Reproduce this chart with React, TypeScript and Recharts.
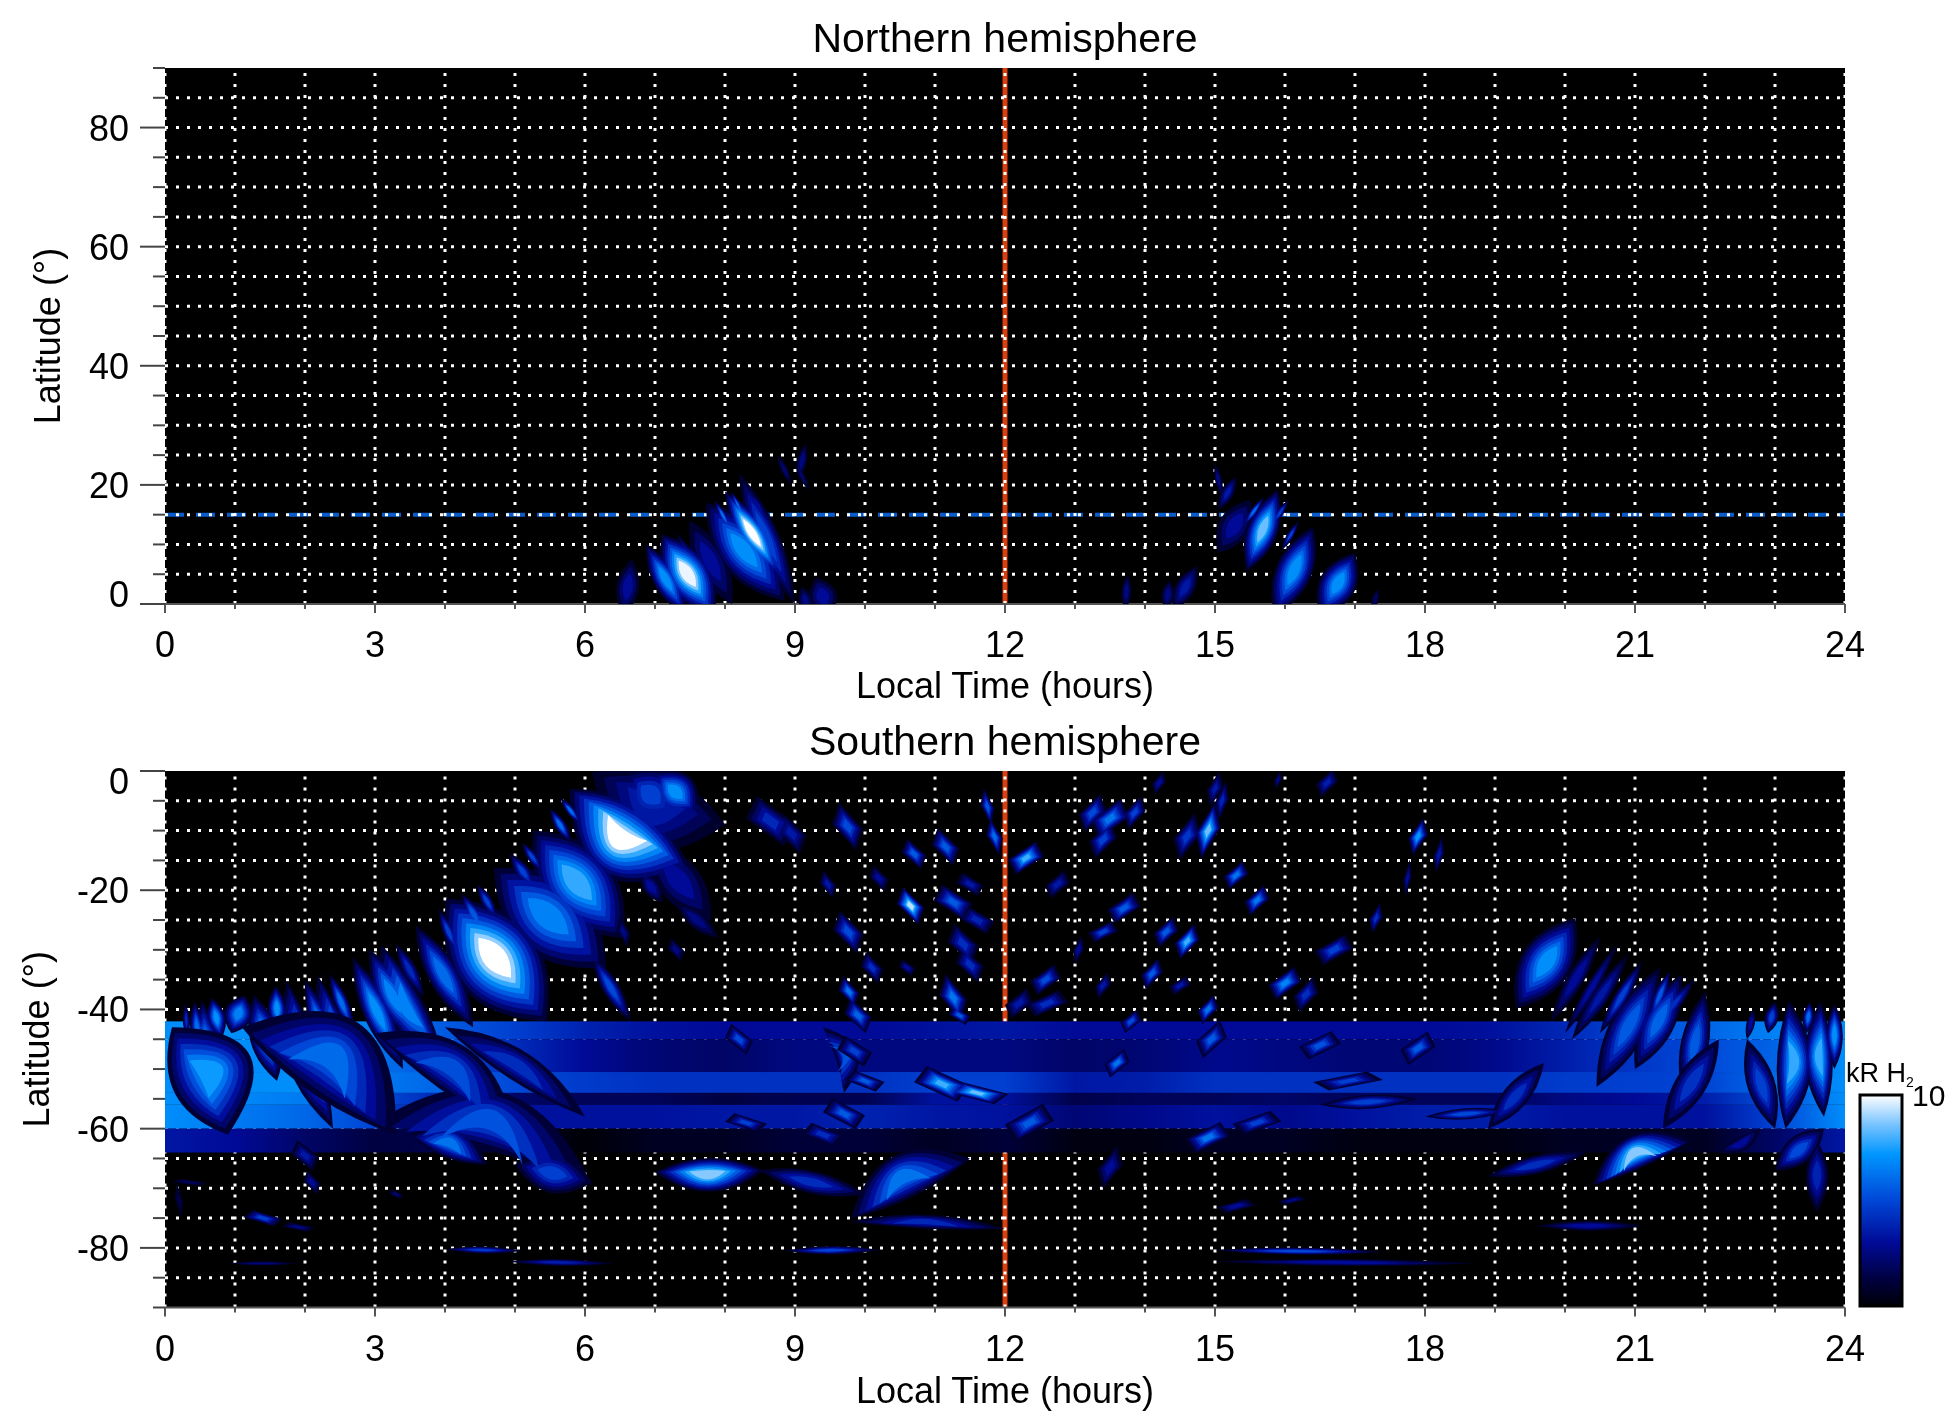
import React from 'react';
import { ScatterChart, Scatter, XAxis, YAxis, ReferenceLine, CartesianGrid } from 'recharts';

// ---------- axis values ----------
const hours = Array.from({ length: 25 }, (_, i) => i);
const innerHours = hours;
const northLatTicks = [0,5,10,15,20,25,30,35,40,45,50,55,60,65,70,75,80,85,90];
const southLatTicks = [0,-5,-10,-15,-20,-25,-30,-35,-40,-45,-50,-55,-60,-65,-70,-75,-80,-85,-90];
const titleNorth = 'Northern hemisphere';
const titleSouth = 'Southern hemisphere';
const xTitle = 'Local Time (hours)';
const yTitle = 'Latitude (°)';
const northSubsolar = 15;
const southSubsolar = -44;
const noon = 12;

// ---------- colour scale stops: log10(kR) -> colour ----------
const scaleT = [0, 0.12, 0.3, 0.5, 0.72, 0.86, 1];
const scaleC = [[0,0,8],[0,0,60],[0,10,150],[0,70,215],[0,150,255],[120,195,255],[255,255,255]];

// ---------- latitude bands: top, bottom, then kR at each hour 0..24 ----------
const bandTop = [-42, -45, -50.5, -54, -56, -60];
const bandBottom = [-45, -50.5, -54, -56, -60, -64];
const bandA = [5,5,5,4.6,3.6,3,2.4,2.1,2,2,2,2.1,2.2,2,2,2,2,2,2,2.1,2.5,3.2,3.8,4.6,5];
const bandB = [5,5,4.8,4.2,3.4,2.6,2,1.7,1.6,1.8,1.8,1.8,1.8,1.6,1.7,1.9,1.8,1.7,1.7,1.9,2.3,2.8,3.2,3.8,5];
const bandC = [5,5,5,4.4,3.8,3.2,2.9,2.7,2.7,2.7,2.7,3,3,2.2,2.3,2.7,2.7,2.7,2.7,2.7,2.9,3,3.1,4,5];
const bandD = [5,4.8,4.4,3.4,2.4,1.6,1.5,1.5,1.35,1.45,1.45,2.1,2.1,1.4,1.5,1.5,1.6,1.5,1.5,1.5,1.8,2,2.3,3.4,5];
const bandE = [5,4.4,3.9,3.1,2.4,2.1,2.1,2.1,2.2,2.2,2.4,2.2,2.1,1.7,1.9,2.1,1.9,2.1,2.3,2.3,2.1,2.1,2.1,3.1,5];
const bandF = [2.2,2,1.6,1.35,1.4,1.15,1,1.15,1.15,1.3,1.3,1.15,1.3,1.05,1.05,1.15,1.15,1.05,1.05,1.05,1.15,1.15,1.15,1.6,2.2];
const bandRows = [bandA, bandB, bandC, bandD, bandE, bandF];

// ---------- streaks: tipLT, tipLat, endLT, endLat, half width (h), peak kR, bow (h) ----------
const southDawnStreaks = [
  [.29,-38.9,.32,-45,.05,2.5,0],[.42,-38.6,.5,-48,.1,4,0],[.53,-38.5,.72,-60,.22,7.5,0],[.67,-38,.8,-45,.13,5,0],
  [1.14,-37.6,.95,-44,.2,4.5,0],[1.27,-37.6,1.6,-52,.22,5,0],[1.58,-36,1.62,-44,.13,5,0],[1.74,-35.2,2.4,-60,.24,5,.1],
  [2,-35,2.5,-52,.15,5,0],[2.18,-34.3,3,-58,.22,5,.1],[2.35,-34,2.7,-44,.1,4,0],[2.68,-31.3,3.4,-50,.2,5,0],
  [2.92,-30,3.6,-46,.22,4.6,0],[3.09,-29.2,4,-50,.26,4.6,.1],[3.3,-29,3.7,-38,.1,2.5,0],[3.58,-25.9,4.4,-43,.22,4,0],
  [3.91,-23.2,4.2,-31,.08,3,0],[4.02,-21.4,5.45,-42,.62,10,0],[4.24,-20.5,4.6,-28,.1,3.5,0],[4.46,-19,4.75,-25,.08,3,0],
  [4.7,-16.3,6.3,-33,.55,4.6,0],[4.93,-13.9,5.3,-20,.1,3,0],[5.1,-12,5.4,-17,.07,3,0],[5.26,-10,6.55,-28,.52,6,0],
  [5.5,-6.3,5.8,-12,.08,4,0],[5.65,-4.5,5.95,-9,.06,4,0],[5.78,-3,7.5,-16.5,.55,10,.2],[6.1,-.3,8,-9,.55,2.2,.2],
  [7,-.2,7.6,-7,.3,5,0],[6.6,-.2,7.3,-8,.4,3,0],[6.9,-12,7.8,-25,.3,2,0],[6.1,-31,6.65,-42,.12,3.2,0],
  [6.8,-17,7.1,-22,.12,2,0],[7.3,-22,7.9,-28,.12,1.8,0],
];
const southDuskStreaks = [
  [20.15,-24.7,19.3,-39.8,.36,5,0],[20.5,-27.8,19.8,-42,.12,2,0],[20.9,-30.8,20.1,-45,.12,2.2,0],[20.75,-29,20,-44,.08,2,0],
  [21.35,-33,20.45,-53,.26,3.6,0],[21.1,-32,20.5,-44,.1,3,0],[21.66,-34.2,21,-50,.24,3.8,0],[21.5,-33.5,21.2,-42,.08,3.5,0],
  [21.85,-35,21.2,-44,.1,2.6,0],[22,-37,21.7,-55,.2,3.6,0],[23,-38.7,22.9,-44,.1,3,0],[23.2,-38.5,23.15,-60,.25,6,-.1],
  [23.5,-38.7,23.45,-44,.08,4,0],[23.65,-38.6,23.7,-58,.2,6,.05],[23.85,-39,23.85,-50,.12,5,0],[22.7,-40,22.6,-45,.06,2,0],
];
const southArcs = [
  [3,-59,6.1,-69.5,.42,3.4,-.5],[3.5,-61,4.6,-66,.22,4.2,-.1],[5,-66,6.1,-69,.28,3,0],[7,-67.3,8.55,-67,.24,7.5,.05],
  [8.5,-67,10,-71,.16,2.6,0],[9.8,-75,11.5,-65,.32,4.2,-.2],[9.8,-75.6,12,-76.8,.1,2.5,-.05],[8.85,-80.5,10.2,-80.3,.06,3,0],
  [4,-80.2,5.1,-80.5,.05,2.8,0],[4.9,-82.3,6.4,-82.6,.05,2.3,0],[.9,-82.6,1.9,-82.6,.03,1.7,0],[15,-80.4,17.4,-80.7,.05,3.2,0],
  [15,-82.3,18.7,-82.6,.05,2,0],[19.6,-76.3,21.1,-76.3,.07,2,0],[20.4,-69.5,21.8,-62,.24,7.5,-.18],[18.9,-68,20.3,-64,.13,2.6,0],
  [22.2,-64,22.8,-60,.1,2,.05],[23,-67,23.7,-60,.2,3.2,0],[23.6,-62,23.6,-74,.16,2.4,0],[9.4,-43,9.7,-54,.16,3.4,-.2],
  [.1,-43,.9,-61,.6,5.4,-.2],[1.1,-43,3.3,-61,.6,4,-.4],[3,-44,5,-61,.35,3.3,-.25],[4,-43,6,-58,.22,2.6,-.1],
  [22.2,-45,21.4,-60,.22,2.7,0],[23,-60,22.6,-45,.2,3,0],[18.9,-60,19.7,-49,.18,2.6,0],[16.5,-56,17.9,-55,.1,3,0],[18,-58,19.2,-57,.08,3.2,0],
];
// ---------- patches: LT, latitude, half width (h), half height (deg), peak kR ----------
const southPatches = [
  [8.65,-8.4,.35,4.2,2.5],[8.95,-10.5,.22,3.4,2.2],[9.75,-9.3,.22,4,3.2],[9.47,-19,.12,2.4,2.2],[9.76,-27,.22,3.6,3.2],
  [10.65,-22.6,.2,3.2,8.5],[10.7,-13.9,.18,2.6,3.6],[11.15,-12.7,.2,3.2,3.6],[11.75,-6,.1,3.2,3.4],[11.85,-11,.12,3.2,4],
  [12.3,-14.6,.26,2.8,6.2],[11.26,-22,.28,3,3.6],[10.2,-18,.14,2.2,2],[11.5,-19,.2,2,2.2],[11.4,-29,.22,3.4,2.6],[11.6,-25,.25,2.4,2.4],
  [10.1,-33,.16,2.6,2.6],[10.6,-33,.12,1.4,2],[9.77,-37,.15,2.6,4.2],[9.9,-41,.2,3,3.8],[11.26,-38,.2,4,4.2],[11.5,-32.5,.2,3,2.6],[11.35,-41,.16,1.6,3.6],
  [12.58,-35,.22,2.6,3.2],[12.6,-39,.3,2.2,2.6],[12.2,-39,.2,2.6,2.2],[12.75,-19,.18,2.4,2.2],[13.05,-30,.08,2.4,2],
  [13.25,-7,.2,3.2,3.2],[13.5,-8,.28,3.4,4.2],[13.85,-7,.16,2.8,3],[13.4,-11.5,.2,3.2,3],[13.7,-23,.24,2.6,3.6],[13.4,-27,.22,1.8,3],[14.3,-27,.18,2.6,3.6],
  [14.6,-28.6,.18,3,6.2],[14.9,-10,.18,4.8,7],[14.6,-11,.2,4,2.8],[15.1,-5,.1,3.5,2.4],[15.3,-17.5,.18,2.4,4.2],[15.6,-21.7,.18,2.6,4.2],
  [14.1,-34,.16,2.6,3.6],[14.5,-36,.16,1.6,2.2],[13.4,-36,.12,2.2,2.2],[16,-35.6,.24,2.8,4.6],[16.3,-37.5,.18,3,2.6],[14.9,-40,.15,2.5,4.2],[14.95,-45,.22,3.2,3.6],
  [13.8,-42,.15,2,3.2],[13.6,-49,.18,2.4,4.2],[8.2,-45,.2,2.6,3.2],[9.85,-47,.25,2.6,3],[11.1,-52.5,.4,3,6.2],[11.6,-54,.45,1.9,7],[12.35,-59,.35,3.2,3.6],
  [10,-52,.28,1.8,3.6],[9.7,-57.5,.3,2.6,3.6],[8.3,-59,.3,1.6,3],[9.4,-61,.3,2,2.6],[14.9,-61.5,.32,2.6,4.2],[15.6,-59,.35,2,3],[13.5,-66.5,.18,3.6,2],
  [15.3,-73,.28,1.2,2],[16.1,-72,.2,.8,1.8],[16.7,-30,.28,2.6,3],[17.3,-24.7,.1,2.6,2.6],[17.9,-11,.14,3.2,5.2],[18.2,-14,.08,3.2,2.2],[17.75,-18,.06,3.2,2],
  [16.5,-46,.3,2.4,3.4],[17.9,-46.5,.25,2.8,3.6],[16.9,-52,.5,1.6,3],[14.2,-2,.1,2,2],[15,-3,.12,3,2.2],[16.6,-2,.16,2.4,2.3],[15.9,-1.5,.06,1.6,1.8],
  [7.3,-30,.12,2,1.8],[6.55,-27,.1,2.6,1.8],[1.4,-75,.28,1.4,3],[1.9,-76.5,.24,.8,1.8],[2,-64.5,.2,2.6,2.2],[2.1,-69,.12,2,2],[.2,-72,.06,3,1.4],[.35,-69,.25,.6,1.5],[3.3,-71,.1,.8,1.6],
];
// north hemisphere streaks, same columns
const northDawnStreaks = [
  [6.67,7.5,6.55,-2,.16,2,0],[6.87,10,7.45,-2,.18,5,0],[7.1,11.7,7.85,-2,.32,9.5,0],[6.95,8,7.1,4,.04,2,0],
  [7.5,14,8.1,0,.22,2,0],[7.3,12,7.6,6,.05,1.8,0],[7.73,17,8.85,.5,.36,5,0],[7.85,17.5,8.1,12,.05,4,0],[8,18.9,8.8,4.5,.2,10,0],
  [8.08,19,8.3,14,.04,4,0],[8.2,22,9,0,.18,3,0],[8.35,19,8.6,14,.05,2,0],[9.15,27,9.05,21,.07,1.8,0],[8.75,25,8.95,20,.05,1.6,0],
  [9,24,9.2,19,.04,1.6,0],[9.3,4.4,9.5,-2,.2,2,0],[9.1,3,9.2,-2,.1,1.8,0],
];
const northDuskStreaks = [
  [15,23.6,15.1,18,.05,1.8,0],[15.3,21.4,15.05,15.8,.09,2.2,0],[15.9,19.2,15.45,5.5,.22,7,0],[15.7,18,15.4,13,.05,4,0],[16.05,17.5,15.8,13,.05,3,0],
  [15.5,17.5,15.05,8.6,.22,2,0],[16.4,13,15.85,-2,.26,5,0],[16.2,14,15.95,9,.05,3,0],[17,8.6,16.5,-2,.26,5,0],[16.85,7,16.6,3,.04,3,0],
  [14.35,4,14.3,-1,.09,1.8,0],[14.74,6.4,14.4,-1,.14,2.2,0],[13.75,5,13.72,-1,.07,1.8,0],[17.33,2.5,17.25,-1,.05,1.5,0],
];

const colourbarLow = 1;
const colourbarHigh = 10;

// ---------- geometry ----------
const W = 1950;
const PLOT_L = 165, PLOT_R = 1845;
const PX_H = (PLOT_R - PLOT_L) / 24;
const PX_D = 536.5 / 90;
const dotted = '3 8';

function colourOf(k: number) {
  const t = Math.max(0, Math.min(1, Math.log10(Math.max(k, 1))));
  let i = 0;
  while (i < scaleT.length - 2 && t > scaleT[i + 1]) i++;
  const f = (t - scaleT[i]) / (scaleT[i + 1] - scaleT[i]);
  const c = scaleC[i].map((v, j) => Math.round(v + (scaleC[i + 1][j] - v) * f));
  return `rgb(${c[0]},${c[1]},${c[2]})`;
}

const toStreak = (r: number[]) => ({ lt: r[0], lat: r[1], endLt: r[2], endLat: r[3], half: r[4], peak: r[5], bow: r[6] });
const toPatch = (r: number[]) => ({ lt: r[0], lat: r[1], halfH: r[2], halfD: r[3], peak: r[4] });

const blend: React.CSSProperties = { mixBlendMode: 'lighten' };

function StreakShape(props: any) {
  const { cx, cy, payload: p } = props;
  const dx = (p.endLt - p.lt) * PX_H;
  const dy = (p.lat - p.endLat) * PX_D;
  const len = Math.hypot(dx, dy) || 1;
  const nx = -dy / len, ny = dx / len;
  const n = Math.max(2, Math.ceil(Math.log10(p.peak) * 9));
  const out: any[] = [];
  for (let i = 0; i < n; i++) {
    const u = i / n;
    const k = Math.pow(p.peak, (i + 1) / n);
    const a = 0.36 * u, b = 1 - 0.4 * u;
    const sx = cx + dx * a, sy = cy + dy * a, ex = cx + dx * b, ey = cy + dy * b;
    const w = p.half * PX_H * (1 - 0.82 * u) * 2;
    const bow = p.bow * PX_H * 2;
    const mx = cx + dx * 0.6 * (a + b) / 1.2, my = cy + dy * 0.6 * (a + b) / 1.2;
    const d = `M${sx} ${sy}Q${mx + nx * (w + bow)} ${my + ny * (w + bow)} ${ex} ${ey}Q${mx + nx * (bow - w)} ${my + ny * (bow - w)} ${sx} ${sy}Z`;
    out.push(<path key={i} d={d} fill={colourOf(k)} style={blend} />);
  }
  return <g>{out}</g>;
}

function PatchShape(props: any) {
  const { cx, cy, payload: p } = props;
  const n = Math.max(2, Math.ceil(Math.log10(p.peak) * 9));
  const dir = p.lt < 12 ? -1 : 1;
  const out: any[] = [];
  for (let i = 0; i < n; i++) {
    const u = 1 - (i / n) * 0.85;
    const hw = p.halfH * PX_H * u, hh = p.halfD * PX_D * u;
    const skew = dir * hw * 0.55;
    const pts = `${cx + skew},${cy - hh} ${cx + hw},${cy - hh * 0.1 * dir} ${cx - skew},${cy + hh} ${cx - hw},${cy + hh * 0.1 * dir}`;
    out.push(<polygon key={i} points={pts} fill={colourOf(Math.pow(p.peak, (i + 1) / n))} style={blend} />);
  }
  return <g>{out}</g>;
}

function BandShape(props: any) {
  const { cy, payload: p } = props;
  const id = `band${p.row}`;
  return (
    <g>
      <defs>
        <linearGradient id={id} x1="0" x2="1" y1="0" y2="0">
          {p.values.map((v: number, i: number) => (
            <stop key={i} offset={i / (p.values.length - 1)} stopColor={colourOf(v)} />
          ))}
        </linearGradient>
      </defs>
      <rect x={PLOT_L} y={cy} width={PLOT_R - PLOT_L} height={(p.lat - p.bottom) * PX_D} fill={`url(#${id})`} />
    </g>
  );
}

function XTick(props: any) {
  const { x, y, payload } = props;
  const major = payload.value % 3 === 0;
  return (
    <g>
      <line x1={x} x2={x} y1={y} y2={y + (major ? 9 : 5)} stroke="#555" strokeWidth={2} />
      {major && (
        <text x={x} y={y + 53} textAnchor="middle" fontSize={36} fontFamily="Liberation Sans" fill="#000">{payload.value}</text>
      )}
    </g>
  );
}

function YTick(props: any) {
  const { x, y, payload, nudge } = props;
  const major = payload.value % 20 === 0;
  const shift = payload.value === 0 ? nudge : 0;
  return (
    <g>
      <line x1={x} x2={x - (major ? 25 : 12)} y1={y} y2={y} stroke="#444" strokeWidth={2} />
      {major && (
        <text x={x - 36} y={y + 13 + shift} textAnchor="end" fontSize={36} fontFamily="Liberation Sans" fill="#000">{payload.value}</text>
      )}
    </g>
  );
}

function Panel({ top, height, plotTop, plotBottom, domain, latTicks, title, titleY, xTitleY, yTitleX, nudge, children }: any) {
  const yAxisW = 120, xAxisH = 60;
  const gridLats = latTicks.filter((v: number) => v !== 90 && v !== -90 && v !== 0);
  return (
    <div style={{ position: 'absolute', left: 0, top }}>
      <ScatterChart
        width={W}
        height={height}
        margin={{ top: plotTop, left: PLOT_L - yAxisW, right: W - PLOT_R, bottom: height - plotBottom - xAxisH }}
      >
        <CartesianGrid horizontal={false} vertical={false} fill="#000" />
        <XAxis
          type="number" dataKey="lt" domain={[0, 24]} ticks={hours} interval={0} height={xAxisH}
          allowDataOverflow tickSize={0} tickMargin={0} tickLine={false} stroke="#555" strokeWidth={2}
          tick={<XTick />}
        />
        <YAxis
          type="number" dataKey="lat" domain={domain} ticks={latTicks} interval={0} width={yAxisW}
          allowDataOverflow tickSize={0} tickMargin={0} tickLine={false} axisLine={false}
          tick={<YTick nudge={nudge} />}
        />
        {children}
        {gridLats.map((v: number) => (
          <ReferenceLine key={'h' + v} y={v} stroke="#fff" strokeWidth={3} strokeDasharray={dotted} />
        ))}
        {innerHours.map((v: number) => (
          <ReferenceLine key={'v' + v} x={v} stroke="#fff" strokeWidth={3} strokeDasharray={dotted} />
        ))}
        <text x={1005} y={titleY} textAnchor="middle" fontSize={41} fontFamily="Liberation Sans" fill="#000">{title}</text>
        <text x={1005} y={xTitleY} textAnchor="middle" fontSize={36} fontFamily="Liberation Sans" fill="#000">{xTitle}</text>
        <text
          x={yTitleX} y={(plotTop + plotBottom) / 2} textAnchor="middle" fontSize={36} fontFamily="Liberation Sans" fill="#000"
          transform={`rotate(-90 ${yTitleX} ${(plotTop + plotBottom) / 2})`}
        >{yTitle}</text>
      </ScatterChart>
    </div>
  );
}

const NoLine = { isAnimationActive: false } as const;

function ColourbarShape(props: any) {
  const { cx, cy } = props;
  const steps = [0, 0.12, 0.3, 0.5, 0.72, 0.86, 1];
  return (
    <g>
      <defs>
        <linearGradient id="cbar" x1="0" x2="0" y1="1" y2="0">
          {steps.map((t) => <stop key={t} offset={t} stopColor={colourOf(Math.pow(10, t))} />)}
        </linearGradient>
      </defs>
      <rect x={cx - 21} y={cy} width={42} height={211} fill="url(#cbar)" stroke="#000" strokeWidth={3} />
    </g>
  );
}

export default function App() {
  const bands = bandRows.map((values, row) => ({ lt: 12, lat: bandTop[row], bottom: bandBottom[row], values, row }));
  return (
    <div style={{ position: 'absolute', left: 0, top: 0, width: W, height: 1423, background: '#fff', overflow: 'hidden' }}>
      <Panel
        top={0} height={710} plotTop={68} plotBottom={604} domain={[0, 90]} latTicks={northLatTicks}
        title={titleNorth} titleY={52} xTitleY={698} yTitleX={60} nudge={-10}
      >
        <Scatter {...NoLine} data={northDawnStreaks.map(toStreak)} shape={<StreakShape />} />
        <Scatter {...NoLine} data={northDuskStreaks.map(toStreak)} shape={<StreakShape />} />
        <ReferenceLine y={northSubsolar} stroke="#0a5ccc" strokeWidth={4} strokeDasharray="19 12" />
        <ReferenceLine x={noon} stroke="#d8400f" strokeWidth={5} />
      </Panel>
      <Panel
        top={713} height={710} plotTop={58} plotBottom={594.5} domain={[-90, 0]} latTicks={southLatTicks}
        title={titleSouth} titleY={42} xTitleY={690} yTitleX={49} nudge={10}
      >
        <Scatter {...NoLine} data={bands} shape={<BandShape />} />
        <Scatter {...NoLine} data={southDawnStreaks.map(toStreak)} shape={<StreakShape />} />
        <Scatter {...NoLine} data={southDuskStreaks.map(toStreak)} shape={<StreakShape />} />
        <Scatter {...NoLine} data={southArcs.map(toStreak)} shape={<StreakShape />} />
        <Scatter {...NoLine} data={southPatches.map(toPatch)} shape={<PatchShape />} />
        <ReferenceLine y={southSubsolar} stroke="#ff0018" strokeWidth={4} strokeDasharray="19 12" />
        <ReferenceLine x={noon} stroke="#d8400f" strokeWidth={5} />
      </Panel>
      <div style={{ position: 'absolute', left: 1840, top: 1055 }}>
        <ScatterChart width={110} height={270} margin={{ top: 40, left: 20, right: 0, bottom: 0 }}>
          <XAxis type="number" dataKey="lt" domain={[0, 1]} hide />
          <YAxis
            type="number" dataKey="k" scale="log" domain={[colourbarLow, colourbarHigh]} ticks={[colourbarLow, colourbarHigh]}
            orientation="right" width={48} tickLine={false} axisLine={false} tickMargin={4}
            tick={{ fontSize: 30, fontFamily: 'Liberation Sans', fill: '#000' }}
          />
          <Scatter {...NoLine} data={[{ lt: 0.5, k: colourbarHigh }]} shape={<ColourbarShape />} />
          <text x={6} y={27} fontSize={27} fontFamily="Liberation Sans" fill="#000">kR H<tspan fontSize={14} dy={5}>2</tspan></text>
        </ScatterChart>
      </div>
    </div>
  );
}
